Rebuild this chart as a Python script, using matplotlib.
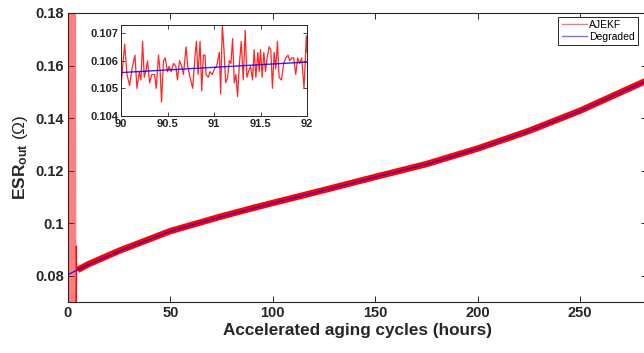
import matplotlib
matplotlib.use("Agg")
import matplotlib.pyplot as plt
from matplotlib.lines import Line2D

plt.rcParams['font.family'] = ['Liberation Sans', 'DejaVu Sans']
plt.rcParams['mathtext.fontset'] = 'custom'
plt.rcParams['mathtext.rm'] = 'Liberation Sans'
plt.rcParams['mathtext.bf'] = 'Liberation Sans:bold'
plt.rcParams['mathtext.it'] = 'Liberation Sans:italic'

# ---------------- data ----------------
# Degraded (reference) ESR curve, hours -> ohm
deg_t = [0, 5, 10, 25, 50, 75, 90, 92, 100, 125, 150, 175, 200, 225, 250, 282]
deg_v = [0.0804, 0.0824, 0.0842, 0.0893, 0.0969, 0.1025, 0.10557, 0.10595,
         0.1076, 0.1125, 0.1175, 0.1224, 0.1283, 0.1350, 0.1427, 0.1540]

# AJEKF estimate: start-up transient then tracking
ajekf_tr_t = [0.0, 0.15, 0.4, 0.7, 1.0, 1.3, 1.6, 1.9, 2.2, 2.5, 2.8, 3.1,
              3.4, 3.7, 3.9, 4.05, 4.2, 4.4, 4.7]
ajekf_tr_v = [0.02, 0.26, -0.05, 0.30, 0.01, 0.24, -0.02, 0.28, 0.03, 0.22,
              0.00, 0.20, 0.03, 0.19, 0.05, 0.0913, 0.0818, 0.0830, 0.0822]
ajekf_t = [4.7, 10, 25, 50, 75, 90, 100, 125, 150, 175, 200, 225, 250, 282]
ajekf_v = [0.0822, 0.0844, 0.0895, 0.0970, 0.1026, 0.1057, 0.1077, 0.1126,
           0.1176, 0.1225, 0.1284, 0.1351, 0.1428, 0.1541]

# Zoomed window 90-92 h (AJEKF samples)
zoom_x = [62, 73, 80, 88, 95, 104, 110, 117, 122, 127, 132, 138, 142, 148, 155,
          163, 168, 175, 180, 184, 190, 195, 202, 207, 213, 220, 227, 232, 238,
          245, 250, 258, 263, 270, 278, 285, 289, 294, 300, 305, 310, 315, 318,
          325, 330, 337, 343, 350, 358, 362, 367, 372, 377, 383, 388, 393, 398,
          403, 408, 413, 418, 424, 430, 436, 441, 446, 452, 458, 463, 468, 474,
          478, 482, 487, 492, 497, 502, 508, 513, 518, 523, 528, 533, 538, 545,
          552, 558, 565, 570, 576, 582, 588, 594, 600, 606, 613, 620, 622]
zoom_v = [0.1051, 0.1066, 0.1055, 0.1051, 0.1057, 0.1062, 0.1050, 0.1056,
          0.1053, 0.1067, 0.1054, 0.1057, 0.1060, 0.1052, 0.1055, 0.1055,
          0.1050, 0.1062, 0.1056, 0.1045, 0.1060, 0.1061, 0.1056, 0.1058,
          0.1056, 0.1059, 0.1058, 0.1053, 0.1060, 0.1058, 0.1055, 0.1065,
          0.1058, 0.1054, 0.1050, 0.1062, 0.1067, 0.1055, 0.1067, 0.1049,
          0.1062, 0.1062, 0.1055, 0.1054, 0.1056, 0.1055, 0.1057, 0.1058,
          0.1063, 0.1048, 0.1073, 0.1064, 0.1052, 0.1054, 0.1060, 0.1059,
          0.1068, 0.1052, 0.1055, 0.1047, 0.1058, 0.1067, 0.1053, 0.1071,
          0.1054, 0.1056, 0.1058, 0.1053, 0.1064, 0.1054, 0.1063, 0.1056,
          0.1064, 0.1054, 0.1063, 0.1056, 0.1061, 0.1065, 0.1064, 0.1050,
          0.1063, 0.1057, 0.1067, 0.1054, 0.1053, 0.1059, 0.1061, 0.1062,
          0.1060, 0.1061, 0.1061, 0.1055, 0.1061, 0.1059, 0.1061, 0.1050,
          0.1069, 0.1063]
zoom_t = [90 + (z - 62) / 280.0 for z in zoom_x]

xticks = [0, 50, 100, 150, 200, 250]
yticks = [0.08, 0.10, 0.12, 0.14, 0.16, 0.18]
ytick_labels = ['0.08', '0.1', '0.12', '0.14', '0.16', '0.18']
in_xticks = [90, 90.5, 91, 91.5, 92]
in_yticks = [0.104, 0.105, 0.106, 0.107]

# ---------------- figure ----------------
RED = (1.0, 0.0, 0.0)
BLUE = (0.0, 0.0, 1.0)
SPINE = (0.15, 0.15, 0.15)

fig = plt.figure(figsize=(6.44, 3.53), dpi=100)
ax = fig.add_axes([68 / 644, 51 / 353, 579 / 644, 289 / 353])

ax.plot(ajekf_tr_t, ajekf_tr_v, color=RED, lw=0.7, alpha=0.5)
ax.plot(ajekf_tr_t[::4], ajekf_tr_v[::4], color=RED, lw=0.8, alpha=0.9)
ax.plot(ajekf_tr_t[-5:], ajekf_tr_v[-5:], color=RED, lw=0.9, alpha=0.95)
ax.plot(ajekf_t, ajekf_v, color=RED, lw=4.6, solid_capstyle='butt')
ax.plot(deg_t, deg_v, color=BLUE, lw=0.9, alpha=0.85)

ax.set_xlim(0, 282.7)
ax.set_ylim(0.07, 0.18)
ax.set_xticks(xticks)
ax.set_xticklabels([str(v) for v in xticks], fontsize=10.5, fontweight='bold')
ax.set_yticks(yticks)
ax.set_yticklabels(ytick_labels, fontsize=10.5, fontweight='bold')
ax.tick_params(direction='in', top=True, right=True, length=4, width=0.7,
               color=SPINE, labelcolor=(0.15, 0.15, 0.15), pad=3)
for s in ax.spines.values():
    s.set_color(SPINE)
    s.set_linewidth(0.8)

ax.set_xlabel('Accelerated aging cycles (hours)', fontsize=12.3,
              fontweight='bold', color=(0.15, 0.15, 0.15), labelpad=2)
ax.set_ylabel(r'$\mathbf{ESR}_{\mathbf{out}}\ (\Omega)$', fontsize=12.5,
              color=(0.15, 0.15, 0.15), labelpad=4)

handles = [Line2D([], [], color=RED, lw=1.0, alpha=0.55),
           Line2D([], [], color=BLUE, lw=1.0, alpha=0.55)]
leg = ax.legend(handles, ['AJEKF', 'Degraded'], loc='upper right',
                bbox_to_anchor=(638 / 644, 1 - 17 / 353),
                bbox_transform=fig.transFigure, fontsize=7.5,
                handlelength=2.4, handletextpad=0.25, borderpad=0.3,
                labelspacing=0.15, borderaxespad=0, fancybox=False,
                framealpha=1)
leg.get_frame().set_edgecolor(SPINE)
leg.get_frame().set_linewidth(0.7)

# inset
axi = fig.add_axes([121 / 644, (353 - 116) / 353, 186 / 644, 91 / 353])
axi.plot(zoom_t, zoom_v, color=RED, lw=0.9, alpha=0.85)
axi.plot([deg_t[6], deg_t[7]], [deg_v[6], deg_v[7]], color=BLUE, lw=1.0,
         alpha=0.85)
axi.set_xlim(90, 92)
axi.set_ylim(0.104, 0.10729)
axi.set_xticks(in_xticks)
axi.set_xticklabels(['90', '90.5', '91', '91.5', '92'], fontsize=8,
                    fontweight='bold')
axi.set_yticks(in_yticks)
axi.set_yticklabels(['0.104', '0.105', '0.106', '0.107'], fontsize=8,
                    fontweight='bold')
axi.tick_params(direction='in', top=True, right=True, length=3, width=0.6,
                color=SPINE, labelcolor=(0.15, 0.15, 0.15), pad=2)
for s in axi.spines.values():
    s.set_color(SPINE)
    s.set_linewidth(0.7)

fig.savefig('out.png', dpi=100)
